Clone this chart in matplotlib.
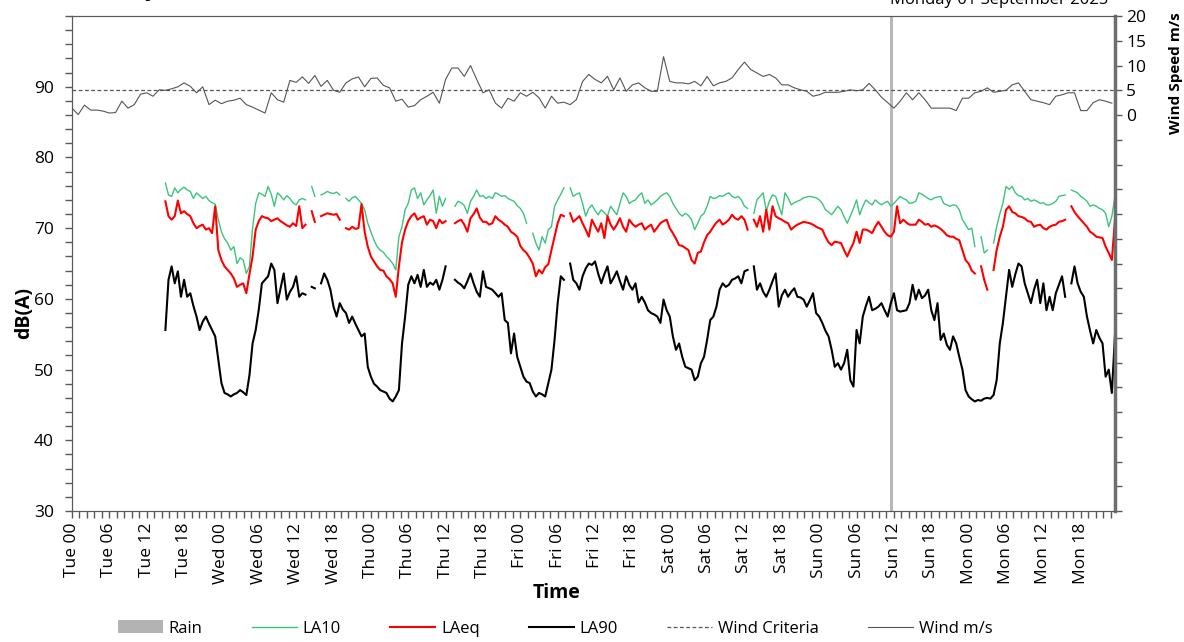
import numpy as np
import matplotlib
matplotlib.use('Agg')
import matplotlib.pyplot as plt
from matplotlib.ticker import MultipleLocator
from matplotlib.patches import Patch
from matplotlib.lines import Line2D

nan = np.nan

# ---- data: half-hourly noise readings from Tue 15:00, one row = 6 hours ----
days = ['Tue', 'Wed', 'Thu', 'Fri', 'Sat', 'Sun', 'Mon']
noise_start = 15.0   # hours after Tue 00:00
noise_step = 0.5

la10 = [
    76.4, 74.7, 74.5, 75.7, 75.0, 75.5, 75.8, 75.4, 75.2, 74.2, 75.0, 74.6,
    74.2, 74.5, 73.9, 73.6, 73.4, 71.2, 69.5, 68.5, 67.9, 66.9, 67.4, 65.0,
    65.8, 65.5, 63.6, 64.6, 70.0, 73.5, 75.0, 74.8, 74.5, 75.9, 74.8, 73.1,
    75.0, 74.6, 74.0, 74.6, 74.2, 73.6, 73.3, 74.0, 74.2, 74.0, nan, 75.9,
    74.5, nan, 74.7, 74.9, 75.2, 75.0, 74.9, 75.1, 74.7, nan, 74.2, 73.8,
    74.3, 74.5, 74.0, 73.5, 72.6, 70.7, 69.5, 68.3, 67.4, 66.9, 66.6, 66.0,
    65.6, 65.0, 64.1, 68.8, 70.2, 72.6, 73.5, 75.4, 75.7, 74.2, 75.0, 73.3,
    74.0, 74.6, 75.4, 72.1, 74.5, 73.1, 74.2, nan, nan, 73.1, 73.8, 73.6,
    73.2, 72.1, 73.8, 74.5, 75.4, 74.5, 74.6, 74.2, 74.5, 74.2, 75.0, 74.8,
    74.5, 74.6, 74.2, 74.0, 73.8, 73.2, 72.8, 72.1, 70.7, nan, 69.3, 67.9,
    66.9, 68.8, 67.9, 69.8, 70.2, 73.1, 74.0, 74.8, 75.7, nan, 75.7, 74.5,
    74.8, 75.0, 73.5, 71.7, 72.8, 73.3, 72.5, 71.9, 72.6, 72.2, 71.7, 73.1,
    72.5, 71.9, 73.5, 75.0, 74.5, 73.5, 73.8, 74.0, 74.6, 75.0, 73.5, 74.0,
    73.3, 73.6, 74.0, 74.5, 74.8, 75.0, 74.5, 73.5, 72.8, 72.1, 71.7, 72.1,
    71.8, 71.2, 69.8, 70.7, 71.7, 72.1, 73.1, 74.5, 74.2, 74.3, 74.6, 74.5,
    74.8, 75.0, 74.5, 74.3, 74.5, 74.0, 73.1, 72.8, nan, 72.1, 74.0, 74.5,
    75.0, 72.4, 73.8, 74.7, 74.5, 73.2, 71.9, 75.0, 74.3, 73.3, 73.6, 73.8,
    74.0, 74.3, 74.4, 74.5, 74.4, 74.3, 74.0, 73.5, 72.6, 72.3, 71.9, 72.5,
    73.1, 72.6, 71.6, 70.7, 71.7, 72.8, 74.0, 71.9, 73.1, 74.0, 73.6, 73.3,
    74.0, 73.6, 73.3, 73.6, 73.8, 73.1, 73.5, 74.0, 74.5, 74.2, 74.0, 73.5,
    73.6, 73.8, 75.0, 74.8, 74.5, 74.2, 74.0, 74.3, 74.4, 74.5, 73.5, 73.3,
    73.1, 73.3, 73.2, 72.6, 71.2, 70.5, 69.8, 70.0, 67.4, nan, 68.8, 66.5,
    66.9, nan, 67.9, 70.2, 72.0, 73.5, 75.9, 75.5, 75.9, 75.0, 74.6, 74.5,
    74.0, 74.2, 73.8, 74.0, 73.8, 73.5, 73.6, 73.3, 73.3, 73.5, 73.8, 74.5,
    74.6, 74.7, nan, 75.4, 75.2, 75.0, 74.5, 74.2, 73.8, 73.1, 73.3, 73.1,
    72.8, 72.6, 72.1, 70.2, 71.7, 74.5,
]

laeq = [
    73.8, 71.7, 71.2, 71.7, 73.9, 72.1, 72.4, 72.0, 71.7, 70.7, 70.0, 70.3,
    70.5, 69.8, 70.0, 69.3, 73.1, 66.9, 65.5, 64.6, 64.1, 63.6, 62.9, 61.7,
    62.0, 62.2, 60.8, 63.5, 66.0, 69.8, 71.0, 71.7, 71.5, 71.4, 71.0, 71.2,
    71.4, 71.0, 70.7, 70.4, 70.2, 70.7, 70.3, 73.1, 70.0, 70.5, nan, 72.4,
    70.9, nan, 71.7, 71.9, 72.1, 72.0, 71.9, 72.0, 71.2, nan, 70.0, 69.8,
    70.2, 69.9, 70.0, 73.4, 69.5, 67.4, 66.0, 65.3, 64.6, 64.1, 64.0, 63.2,
    62.8, 62.2, 60.3, 64.6, 68.0, 69.8, 71.0, 71.7, 72.1, 71.2, 71.5, 71.7,
    70.5, 71.2, 71.0, 70.0, 71.2, 70.7, 71.0, nan, nan, 70.7, 71.0, 71.2,
    70.5, 69.5, 71.4, 72.0, 72.8, 71.5, 70.9, 70.9, 70.5, 70.7, 71.7, 71.2,
    70.9, 70.5, 70.2, 69.5, 69.2, 68.8, 67.5, 66.9, 66.5, 65.8, 65.0, 63.2,
    64.1, 63.6, 64.5, 64.9, 66.9, 68.8, 70.7, 71.9, 71.7, nan, 72.1, 70.9,
    71.3, 71.7, 70.7, 69.8, 68.8, 71.2, 70.3, 69.5, 70.7, 68.6, 71.7, 70.5,
    69.8, 70.5, 71.4, 70.2, 69.5, 71.2, 70.6, 70.2, 70.5, 70.7, 69.8, 70.2,
    70.5, 69.5, 70.1, 70.7, 71.0, 71.2, 70.0, 69.3, 68.5, 67.6, 67.5, 67.2,
    66.9, 65.5, 65.0, 66.5, 66.7, 68.0, 69.0, 69.5, 70.2, 70.8, 71.2, 70.5,
    70.8, 71.2, 71.9, 71.4, 71.2, 71.7, 71.2, 69.8, nan, 71.2, 70.2, 71.7,
    69.5, 72.6, 69.8, 73.1, 71.7, 71.4, 71.2, 70.9, 70.7, 69.8, 70.2, 70.5,
    70.7, 70.9, 70.8, 70.7, 70.5, 70.2, 70.0, 69.8, 68.8, 68.0, 67.6, 68.1,
    68.0, 67.9, 66.9, 66.0, 67.0, 67.9, 69.5, 67.9, 69.8, 69.8, 69.6, 69.3,
    70.2, 70.9, 70.2, 69.5, 69.0, 68.8, 69.5, 73.1, 70.7, 71.2, 70.8, 70.5,
    70.5, 70.5, 71.2, 70.9, 70.5, 70.6, 70.2, 70.4, 70.2, 69.9, 69.5, 69.0,
    68.8, 68.8, 68.5, 68.3, 66.9, 65.5, 65.0, 64.0, 63.6, nan, 64.6, 62.7,
    61.3, nan, 64.1, 66.9, 68.8, 70.2, 72.6, 73.1, 72.3, 72.1, 71.7, 71.6,
    71.4, 71.0, 70.9, 70.2, 70.4, 70.5, 70.0, 69.8, 70.2, 70.4, 70.5, 70.9,
    71.0, 71.2, nan, 73.1, 72.3, 71.7, 71.2, 70.7, 70.2, 69.5, 69.2, 68.8,
    68.7, 68.6, 67.4, 66.5, 65.5, 71.2,
]

la90 = [
    55.6, 62.7, 64.6, 62.2, 63.9, 60.3, 62.7, 60.3, 60.8, 59.0, 57.5, 55.6,
    56.8, 57.5, 56.5, 55.6, 54.7, 51.4, 48.1, 46.7, 46.5, 46.2, 46.5, 46.7,
    47.1, 46.8, 46.4, 49.2, 53.7, 55.6, 58.5, 62.2, 62.7, 63.2, 65.0, 64.1,
    59.4, 61.5, 63.6, 59.9, 61.0, 61.7, 63.2, 60.3, 60.8, 60.6, nan, 61.7,
    61.5, nan, 62.2, 63.6, 62.7, 61.3, 58.9, 57.5, 59.4, 58.5, 58.0, 56.6,
    57.5, 56.5, 55.6, 54.7, 55.1, 50.4, 49.0, 48.0, 47.6, 47.1, 46.9, 46.7,
    45.9, 45.5, 46.2, 47.1, 53.7, 57.5, 62.0, 63.2, 62.2, 63.4, 61.7, 64.1,
    61.7, 62.3, 62.0, 62.7, 61.3, 62.7, 64.6, nan, nan, 62.7, 62.3, 62.0,
    61.5, 62.5, 63.6, 62.2, 61.0, 60.3, 63.9, 61.7, 61.5, 61.3, 60.8, 60.3,
    60.8, 57.0, 56.6, 52.3, 55.1, 51.8, 50.4, 49.0, 48.3, 48.1, 46.9, 46.2,
    46.7, 46.5, 46.2, 48.1, 50.0, 54.2, 59.4, 63.2, 62.7, nan, 65.0, 62.7,
    62.2, 61.3, 63.2, 64.3, 65.0, 64.8, 65.3, 63.6, 62.2, 63.5, 64.6, 62.2,
    63.0, 63.9, 62.5, 61.3, 63.2, 62.0, 61.3, 62.2, 59.5, 60.3, 59.5, 58.4,
    58.0, 57.8, 57.5, 56.6, 59.9, 58.4, 57.5, 54.7, 52.8, 53.7, 51.8, 50.4,
    50.2, 50.0, 48.5, 49.0, 50.9, 51.8, 54.2, 57.0, 57.5, 58.9, 61.3, 62.2,
    61.7, 62.0, 62.7, 62.9, 63.2, 62.2, 63.9, 64.1, nan, 64.6, 61.3, 62.2,
    61.0, 60.3, 61.3, 62.5, 63.6, 58.9, 60.5, 61.3, 60.3, 61.0, 61.5, 60.3,
    60.2, 59.9, 58.9, 59.8, 60.8, 58.0, 57.5, 56.6, 55.5, 54.7, 52.8, 50.4,
    50.9, 50.0, 50.9, 52.8, 48.5, 47.6, 55.6, 53.7, 57.5, 59.0, 60.3, 58.4,
    58.6, 58.9, 59.4, 58.4, 57.5, 59.4, 60.8, 58.4, 58.2, 58.3, 58.4, 59.4,
    62.0, 59.9, 61.3, 60.1, 60.5, 61.3, 58.4, 57.0, 59.4, 54.2, 55.1, 53.5,
    52.8, 54.7, 53.7, 51.8, 50.0, 47.1, 46.2, 45.8, 45.5, 45.7, 45.6, 45.9,
    46.0, 45.9, 46.4, 48.5, 53.7, 56.6, 60.3, 64.1, 61.7, 63.5, 65.0, 64.6,
    62.2, 60.8, 59.4, 61.3, 62.7, 59.4, 62.2, 58.4, 60.3, 58.4, 60.8, 62.0,
    63.2, 60.3, nan, 62.2, 64.6, 62.2, 61.0, 60.3, 57.5, 55.5, 53.7, 55.6,
    54.5, 53.7, 49.0, 50.0, 46.7, 54.9,
]

# wind speed m/s, hourly from Tue 00:00
wind = [
    1.4, 0.1, 2.0, 1.0, 1.0, 0.8, 0.4, 0.5, 2.8, 1.4, 2.1, 4.2,
    4.5, 3.8, 5.1, 5.0, 5.3, 5.7, 6.5, 5.8, 4.5, 5.7, 2.1, 3.0,
    2.3, 2.8, 3.0, 3.4, 2.1, 1.6, 1.0, 0.4, 4.5, 3.1, 2.6, 7.0,
    6.6, 7.7, 6.4, 8.0, 5.8, 7.0, 5.0, 4.6, 6.5, 7.3, 7.7, 5.7,
    7.4, 7.5, 6.0, 5.5, 2.8, 3.2, 1.6, 1.9, 3.1, 3.8, 4.6, 2.4,
    7.2, 9.5, 9.5, 7.8, 10.0, 7.2, 4.5, 5.1, 2.4, 1.4, 3.4, 2.8,
    4.5, 3.8, 4.6, 3.5, 1.4, 3.8, 2.4, 2.6, 2.1, 3.1, 6.8, 8.2,
    7.2, 6.5, 7.8, 5.1, 7.5, 4.8, 6.1, 6.5, 5.5, 4.8, 4.8, 11.8,
    6.8, 6.5, 6.5, 6.3, 6.8, 5.9, 7.8, 5.9, 6.5, 6.8, 7.5, 9.2,
    10.7, 9.2, 8.5, 7.8, 8.2, 7.5, 6.1, 6.1, 5.5, 5.1, 4.8, 3.8,
    4.1, 4.6, 4.6, 4.6, 4.8, 5.1, 4.9, 5.1, 6.4, 5.1, 3.6, 2.5,
    1.4, 2.8, 4.5, 3.1, 4.5, 3.1, 1.4, 1.4, 1.4, 1.4, 0.9, 3.4,
    3.4, 4.5, 4.8, 5.5, 4.6, 4.8, 5.0, 6.1, 6.5, 4.8, 3.1, 2.8,
    2.5, 2.1, 3.8, 4.1, 4.5, 4.5, 0.9, 0.9, 2.5, 3.1, 2.8, 2.4,
]

wind_criteria = 5
rain_hours = [131.6]
title = 'Weekly'
date_text = 'Monday 01 September 2025'

plt.rcParams['font.family'] = ['Open Sans', 'DejaVu Sans']

noise_hours = noise_start + noise_step * np.arange(len(la10))
wind_hours = np.arange(len(wind))

fig = plt.figure(figsize=(11.84, 6.42), dpi=100)
ax = fig.add_axes([0.0608, 0.204, 0.8809, 0.771])
ax2 = ax.twinx()

ax.bar(rain_hours, 70, bottom=30, width=0.5, color='#b8b8b8', zorder=1)
ax.plot(noise_hours, la10, color='#3cc47c', lw=1.0, zorder=3)
ax.plot(noise_hours, laeq, color='#ff0000', lw=1.5, zorder=3)
ax.plot(noise_hours, la90, color='#000000', lw=1.5, zorder=3)

ax2.axhline(wind_criteria, color='#555555', lw=0.9, ls=(0, (3, 2)))
ax2.plot(wind_hours, wind, color='#555555', lw=0.8)

ax.set_xlim(0, 167.5)
ax.set_ylim(30, 100)
ax2.set_ylim(-80, 20)

xt = np.arange(0, 168, 6)
ax.set_xticks(xt)
ax.set_xticklabels(['%s %02d' % (days[int(t) // 24], int(t) % 24) for t in xt],
                   rotation=90, fontsize=12.5)
ax.xaxis.set_minor_locator(MultipleLocator(1.2))

ax.set_yticks(np.arange(30, 91, 10))
ax.yaxis.set_minor_locator(MultipleLocator(2))
ax.tick_params(axis='y', labelsize=12.5, pad=8)
ax.tick_params(which='both', color='#595959', length=5, width=1)

rt = np.arange(-80, 21, 5)
ax2.set_yticks(rt)
ax2.set_yticklabels([str(t) if t >= 0 else '' for t in rt], fontsize=12.5)
ax2.tick_params(color='#595959', length=5, width=1, pad=3)

for s in ax.spines.values():
    s.set_color('#595959')
for s in ax2.spines.values():
    s.set_color('#595959')
ax2.spines['right'].set_color('#6e6e6e')
ax2.spines['right'].set_linewidth(2.5)

ax.set_ylabel('dB(A)', fontsize=14, fontweight='bold')
ax.yaxis.set_label_coords(-0.036, 0.40)
ax.set_xlabel('Time', fontsize=14, fontweight='bold')
ax.xaxis.set_label_coords(0.465, -0.145)
ax2.set_ylabel('Wind Speed m/s', fontsize=11, fontweight='bold')
ax2.yaxis.set_label_coords(1.052, 0.885)

fig.text(0.062, 1.0 + 5 / 642, title, fontsize=17, fontweight='bold', va='baseline')
fig.text(0.936, 1.0 - 3.5 / 642, date_text, fontsize=12, ha='right', va='baseline')

handles = [
    Patch(facecolor='#b3b3b3', edgecolor='none'),
    Line2D([], [], color='#3cc47c', lw=1.0),
    Line2D([], [], color='#ff0000', lw=1.5),
    Line2D([], [], color='#000000', lw=1.5),
    Line2D([], [], color='#555555', lw=0.9, ls=(0, (3, 2))),
    Line2D([], [], color='#555555', lw=0.8),
]
labels = ['Rain', 'LA10', 'LAeq', 'LA90', 'Wind Criteria', 'Wind m/s']
fig.legend(handles, labels, loc='center', bbox_to_anchor=(0.469, 0.021), ncol=6,
           frameon=False, fontsize=12, handlelength=2.7, handletextpad=0.35,
           columnspacing=2.95, handleheight=0.8)

fig.savefig('out.png', dpi=100)
